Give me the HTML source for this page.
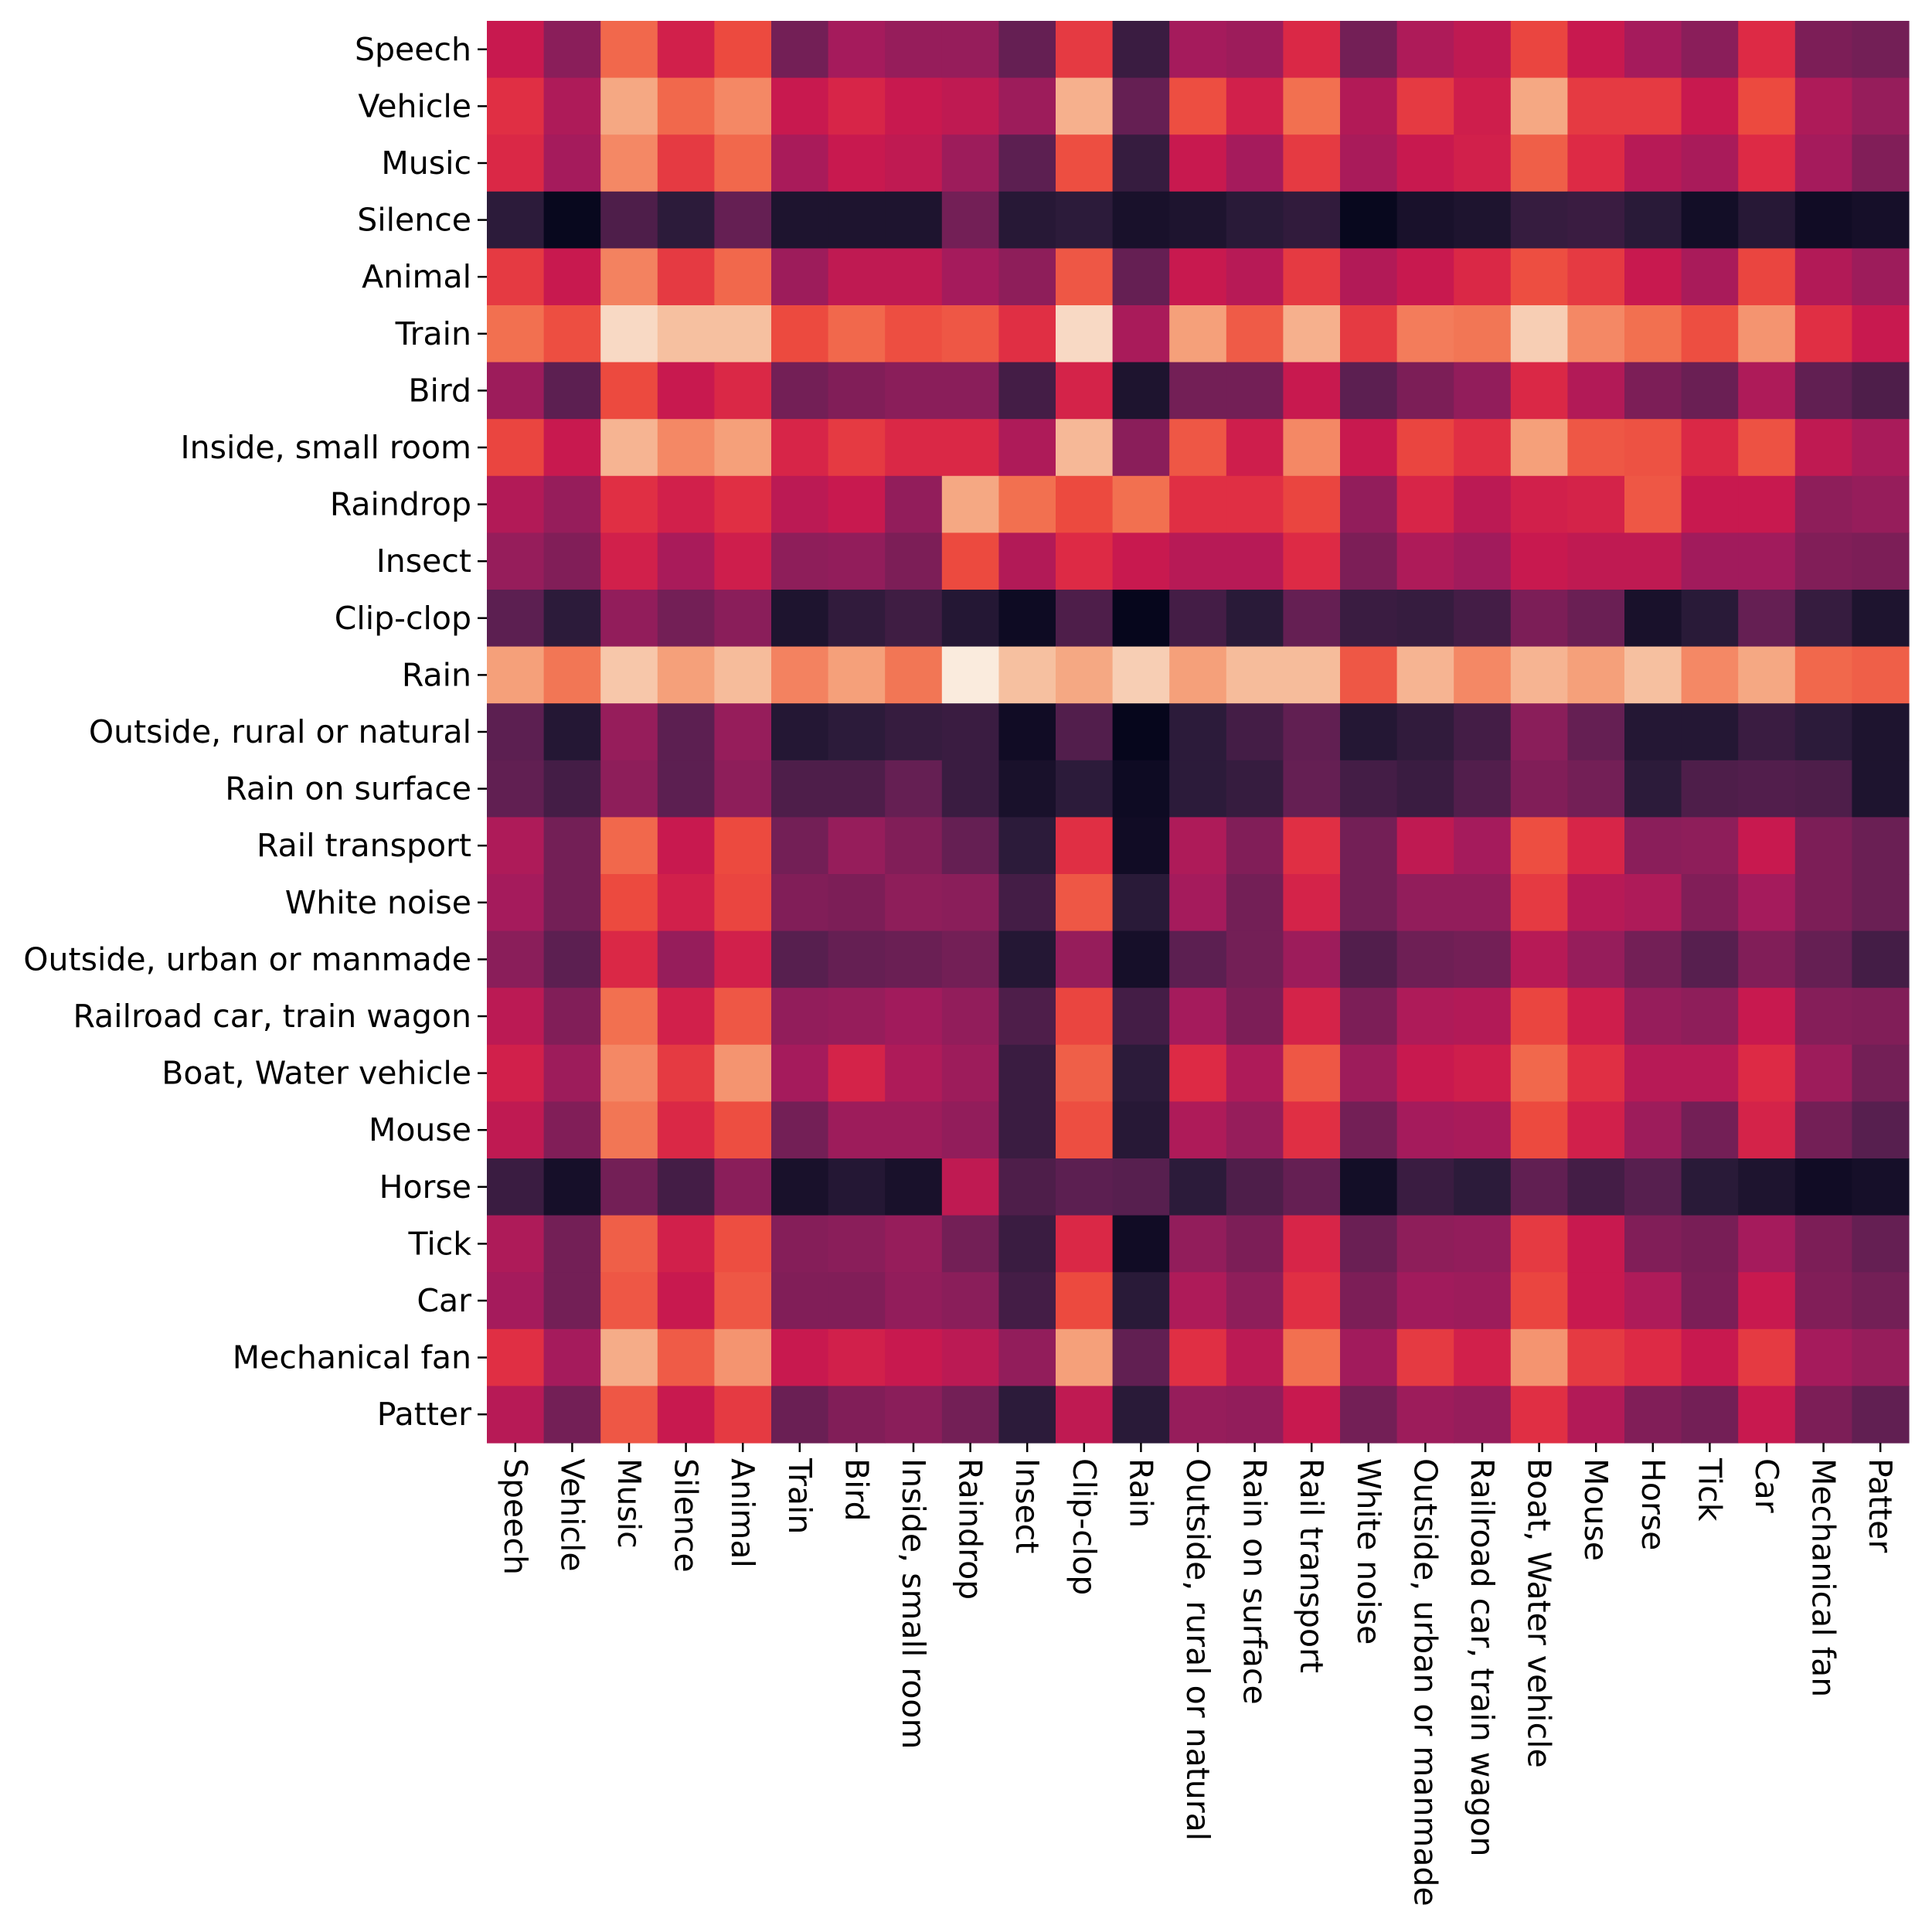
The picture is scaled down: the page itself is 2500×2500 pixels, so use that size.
<!DOCTYPE html>
<html><head><meta charset="utf-8"><style>
html,body{margin:0;padding:0;background:#fff;}
svg{display:block;}
text{font-family:"DejaVu Sans","Liberation Sans",sans-serif;font-size:41px;fill:#000;}
</style></head><body>
<svg id="chart" width="2500" height="2500" xmlns="http://www.w3.org/2000/svg">
<g id="cells"></g>
<g id="yaxis"></g>
<g id="xaxis"></g>
</svg>
<script>
const labels = ["Speech","Vehicle","Music","Silence","Animal","Train","Bird","Inside, small room","Raindrop","Insect","Clip-clop","Rain","Outside, rural or natural","Rain on surface","Rail transport","White noise","Outside, urban or manmade","Railroad car, train wagon","Boat, Water vehicle","Mouse","Horse","Tick","Car","Mechanical fan","Patter"];
const values = [
[.5,.35,.7,.53,.63,.3,.42,.38,.38,.27,.6,.18,.42,.4,.56,.3,.44,.48,.62,.5,.42,.35,.57,.32,.3],
[.58,.44,.82,.7,.76,.5,.55,.5,.48,.4,.84,.27,.64,.53,.72,.45,.6,.52,.82,.6,.6,.5,.63,.44,.38],
[.56,.42,.76,.6,.7,.43,.5,.48,.4,.25,.64,.17,.5,.42,.6,.43,.5,.53,.68,.57,.46,.43,.57,.42,.33],
[.15,.02,.22,.15,.27,.1,.1,.1,.3,.13,.15,.08,.1,.14,.16,.02,.08,.1,.17,.18,.14,.06,.13,.05,.07],
[.6,.5,.75,.6,.7,.4,.48,.48,.42,.36,.66,.27,.5,.46,.6,.45,.5,.56,.64,.6,.5,.43,.62,.45,.4],
[.72,.64,.95,.88,.88,.63,.7,.64,.66,.58,.95,.43,.8,.67,.84,.6,.74,.73,.92,.76,.72,.64,.78,.58,.5],
[.4,.25,.63,.5,.56,.3,.33,.35,.35,.2,.54,.1,.3,.3,.5,.25,.32,.37,.56,.45,.32,.28,.44,.26,.22],
[.62,.5,.85,.76,.8,.55,.6,.56,.56,.44,.86,.35,.66,.52,.76,.5,.62,.58,.8,.66,.65,.56,.65,.48,.43],
[.45,.38,.58,.53,.58,.47,.5,.37,.82,.72,.63,.72,.58,.58,.62,.37,.55,.47,.53,.54,.66,.5,.5,.36,.38],
[.38,.33,.53,.43,.52,.36,.37,.32,.63,.45,.57,.5,.46,.46,.57,.32,.44,.41,.5,.48,.48,.41,.41,.33,.32],
[.25,.15,.37,.3,.35,.1,.16,.19,.12,.04,.22,.01,.2,.14,.27,.18,.17,.2,.32,.28,.08,.14,.27,.17,.1],
[.8,.73,.9,.8,.87,.75,.8,.73,1.0,.88,.82,.92,.8,.87,.87,.66,.85,.76,.85,.8,.88,.76,.82,.7,.68],
[.25,.12,.38,.25,.38,.12,.15,.17,.18,.05,.23,.01,.15,.2,.26,.12,.16,.2,.35,.27,.12,.12,.18,.15,.1],
[.26,.2,.36,.25,.36,.22,.22,.27,.18,.08,.15,.04,.15,.17,.27,.2,.18,.23,.33,.3,.15,.22,.23,.22,.1],
[.44,.3,.7,.5,.63,.3,.38,.33,.27,.15,.58,.05,.44,.33,.58,.3,.48,.42,.64,.55,.35,.36,.5,.32,.28],
[.42,.3,.63,.53,.62,.33,.32,.36,.35,.2,.66,.14,.42,.3,.54,.3,.37,.37,.6,.46,.44,.33,.42,.32,.28],
[.35,.25,.56,.38,.53,.24,.27,.28,.3,.12,.38,.07,.25,.3,.4,.23,.29,.3,.46,.38,.3,.24,.33,.27,.2],
[.47,.33,.72,.53,.66,.37,.38,.41,.37,.22,.62,.2,.42,.32,.54,.32,.44,.45,.62,.52,.38,.36,.5,.34,.33],
[.53,.4,.76,.6,.78,.42,.54,.44,.4,.18,.68,.15,.57,.44,.66,.4,.5,.52,.7,.58,.46,.46,.57,.4,.3],
[.48,.33,.73,.56,.64,.3,.4,.4,.37,.18,.64,.13,.44,.38,.58,.3,.42,.43,.63,.53,.4,.3,.54,.3,.24],
[.18,.07,.3,.2,.35,.08,.12,.08,.48,.22,.25,.24,.15,.22,.27,.06,.18,.15,.26,.2,.24,.14,.1,.05,.07],
[.44,.3,.68,.53,.64,.34,.35,.38,.3,.18,.56,.05,.37,.32,.55,.28,.36,.37,.6,.5,.33,.31,.42,.32,.27],
[.42,.3,.66,.5,.66,.33,.33,.37,.35,.2,.63,.14,.44,.36,.58,.32,.41,.4,.62,.5,.44,.32,.5,.33,.3],
[.58,.42,.83,.67,.78,.5,.53,.5,.47,.37,.8,.26,.58,.47,.72,.41,.6,.53,.78,.6,.57,.5,.6,.42,.38],
[.46,.3,.66,.5,.6,.28,.33,.35,.3,.15,.48,.14,.38,.37,.5,.3,.4,.38,.58,.45,.33,.3,.5,.32,.26]
];
const stops = [[0,[3,5,26]],[0.15,[44,27,58]],[0.25,[92,31,81]],[0.35,[138,30,90]],[0.42,[165,27,92]],[0.5,[200,25,79]],[0.57,[221,42,69]],[0.63,[236,74,63]],[0.72,[242,112,80]],[0.8,[245,160,122]],[0.88,[246,192,160]],[1,[250,235,221]]];
function color(v){
  for(let i=1;i<stops.length;i++){
    if(v<=stops[i][0]){
      const a=stops[i-1],b=stops[i],t=(v-a[0])/(b[0]-a[0]);
      const c=a[1].map((x,k)=>Math.round(x+(b[1][k]-x)*t));
      return `rgb(${c[0]},${c[1]},${c[2]})`;
    }
  }
  return 'rgb(250,235,221)';
}
const X0=630,Y0=27,W=1840,H=1840,n=labels.length,cw=W/n,ch=H/n;
const xs=i=>X0+i*cw, ys=j=>Y0+j*ch;
const NS="http://www.w3.org/2000/svg";
const cells=document.getElementById('cells'),ya=document.getElementById('yaxis'),xa=document.getElementById('xaxis');
for(let r=0;r<n;r++)for(let c=0;c<n;c++){
  const el=document.createElementNS(NS,'rect');
  el.setAttribute('x',xs(c));el.setAttribute('y',ys(r));
  el.setAttribute('width',cw+0.6);el.setAttribute('height',ch+0.6);
  el.setAttribute('fill',color(values[r][c]));
  
  
  cells.appendChild(el);
}
for(let i=0;i<n;i++){
  const cy=ys(i)+ch/2;
  const t=document.createElementNS(NS,'line');
  t.setAttribute('x1',618);t.setAttribute('x2',630);t.setAttribute('y1',cy);t.setAttribute('y2',cy);
  t.setAttribute('stroke','#000');t.setAttribute('stroke-width',2.5);
  
  
  ya.appendChild(t);
  const tx=document.createElementNS(NS,'text');
  tx.setAttribute('x',610);tx.setAttribute('y',cy);
  tx.setAttribute('text-anchor','end');tx.setAttribute('dominant-baseline','central');
  tx.textContent=labels[i];
  
  
  ya.appendChild(tx);
  const cx=xs(i)+cw/2;
  const t2=document.createElementNS(NS,'line');
  t2.setAttribute('x1',cx);t2.setAttribute('x2',cx);t2.setAttribute('y1',1867);t2.setAttribute('y2',1879);
  t2.setAttribute('stroke','#000');t2.setAttribute('stroke-width',2.5);
  
  
  xa.appendChild(t2);
  const tx2=document.createElementNS(NS,'text');
  tx2.setAttribute('x',0);tx2.setAttribute('y',0);
  tx2.setAttribute('transform',`translate(${cx},1887) rotate(90)`);
  tx2.setAttribute('text-anchor','start');tx2.setAttribute('dominant-baseline','central');
  tx2.textContent=labels[i];
  
  
  xa.appendChild(tx2);
}
</script>
</body></html>
